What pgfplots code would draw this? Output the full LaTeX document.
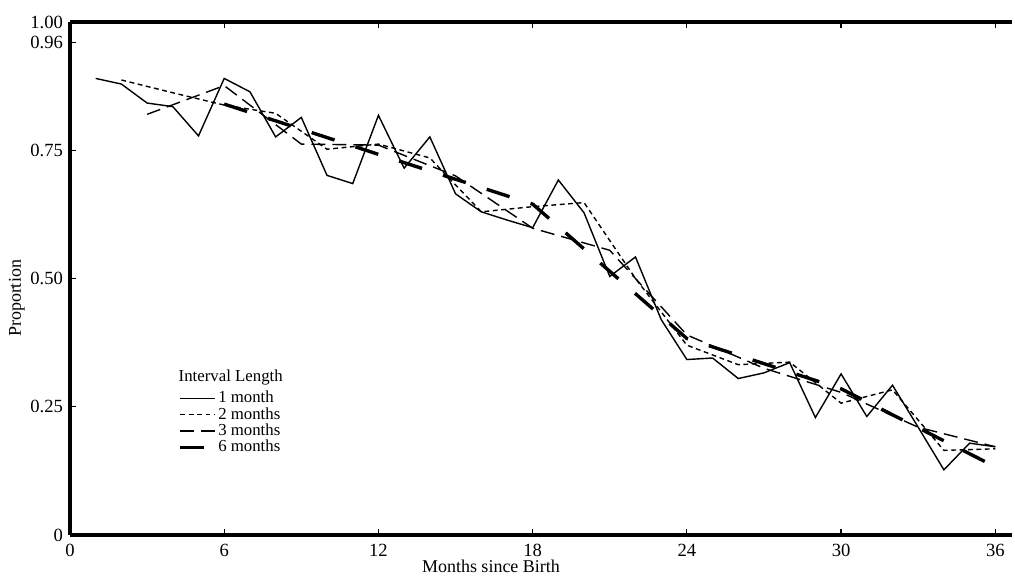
\documentclass[border=0pt]{standalone}
\usepackage{fontspec}
\setmainfont{Liberation Serif}
\usepackage{pgfplots}
\pgfplotsset{compat=1.18}
\usetikzlibrary{calc}

% 1-month intervals
\pgfplotstableread{
m p
1 0.890
2 0.879
3 0.842
4 0.835
5 0.778
6 0.890
7 0.864
8 0.776
9 0.814
10 0.701
11 0.685
12 0.818
13 0.715
14 0.776
15 0.665
16 0.630
17 0.614
18 0.599
19 0.692
20 0.628
21 0.504
22 0.542
23 0.420
24 0.342
25 0.345
26 0.305
27 0.316
28 0.336
29 0.229
30 0.314
31 0.231
32 0.292
33 0.210
34 0.127
35 0.179
36 0.172
}\onemonth

% 2-month intervals
\pgfplotstableread{
m p
2 0.887
4 0.862
6 0.838
8 0.822
10 0.752
12 0.762
14 0.735
16 0.630
18 0.640
20 0.648
22 0.500
24 0.370
26 0.332
28 0.337
30 0.257
32 0.283
34 0.165
36 0.168
}\twomonth

% 3-month intervals
\pgfplotstableread{
m p
3 0.820
6 0.876
9 0.762
12 0.760
15 0.700
18 0.598
21 0.555
24 0.390
27 0.325
30 0.278
33 0.210
36 0.172
}\threemonth

% 6-month intervals
\pgfplotstableread{
m p
6 0.840
12 0.742
18 0.645
24 0.383
30 0.285
36 0.133
}\sixmonth

\begin{document}
\begin{tikzpicture}
\begin{axis}[
  scale only axis,
  width=471pt, height=256.5pt,
  xmin=0, xmax=36.65, ymin=0, ymax=1,
  separate axis lines,
  axis x line*=box,
  axis y line*=left,
  every outer x axis line/.append style={line width=2pt, -},
  every outer y axis line/.append style={line width=2pt, -},
  tick align=inside,
  major tick length=3pt,
  tick style={black, line width=0.6pt},
  xtick={0,6,...,36},
  ytick={0,0.25,0.5,0.75,0.96,1},
  yticklabels={0,0.25,0.50,0.75,0.96,1.00},
  x tick label style={yshift=-1pt},
  /pgf/number format/assume math mode=true,
  xlabel={Months since Birth},
  ylabel={Proportion},
  xlabel style={yshift=5pt, xshift=-25pt},
  ylabel style={yshift=-4pt, yshift=0pt, xshift=-10pt},
  tick label style={font=\fontsize{9.3}{11}\selectfont},
  label style={font=\fontsize{9}{11}\selectfont},
  legend style={at={(rel axis cs:0.115,0.285)}, anchor=north west,
    draw=none, fill=none, font=\fontsize{8.4}{9}\selectfont,
    inner sep=0pt, row sep=-1.2pt,
    nodes={inner sep=1pt}},
  legend cell align=left,
]
\addplot[black, line width=0.7pt] table[x=m, y=p] {\onemonth};
\addlegendentry{1 month}
\addplot[black, line width=0.7pt, dash pattern=on 2.4pt off 1.8pt] table[x=m, y=p] {\twomonth};
\addlegendentry{2 months}
\addplot[black, line width=0.7pt, dash pattern=on 7pt off 3.5pt] table[x=m, y=p] {\threemonth};
\addlegendentry{3 months}
\addplot[black, line width=1.7pt, dash pattern=on 12pt off 11pt] table[x=m, y=p] {\sixmonth};
\addlegendentry{6 months}
\node[anchor=south west, inner sep=0pt, font=\fontsize{8.4}{9}\selectfont]
  at (rel axis cs:0.115,0.292) {Interval Length};
\coordinate (bl) at (rel axis cs:0,0);
\coordinate (tr) at (rel axis cs:1,1);
\end{axis}
\pgfresetboundingbox
\path ($(bl)+(-35pt,-21pt)$) rectangle ($(tr)+(1.5pt,11pt)$);
\end{tikzpicture}
\end{document}
